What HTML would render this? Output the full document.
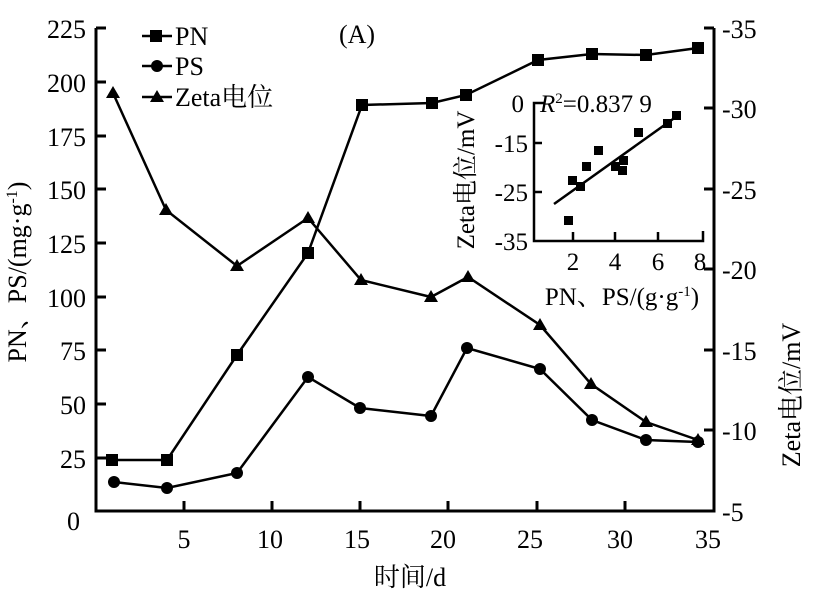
<!DOCTYPE html>
<html><head><meta charset="utf-8"><style>
body{margin:0;background:#fff}
svg{display:block;font-family:"Liberation Serif","Noto Serif CJK SC",serif}
</style></head><body>
<svg width="824" height="598" viewBox="0 0 824 598" xmlns="http://www.w3.org/2000/svg">
<g stroke="#000" stroke-width="3" fill="none">
<path d="M96 28 V511 H714 V28"/>
<path d="M96 28h10M96 82h10M96 136h10M96 189h10M96 243h10M96 297h10M96 350h10M96 404h10M96 458h10"/>
<path d="M184 511v-10M272 511v-10M360 511v-10M448 511v-10M537 511v-10M625 511v-10"/>
<path d="M714 28h-10M714 108h-10M714 189h-10M714 269h-10M714 350h-10M714 430h-10"/>
</g>
<g font-size="26" fill="#000">
<g text-anchor="end">
<text x="86" y="38">225</text><text x="86" y="92">200</text><text x="86" y="146">175</text><text x="86" y="199">150</text><text x="86" y="253">125</text><text x="86" y="307">100</text><text x="86" y="360">75</text><text x="86" y="414">50</text><text x="86" y="468">25</text><text x="80" y="530">0</text>
</g>
<g text-anchor="middle">
<text x="184" y="548">5</text><text x="270" y="548">10</text><text x="357" y="548">15</text><text x="443" y="548">20</text><text x="530" y="548">25</text><text x="620" y="548">30</text><text x="708" y="548">35</text>
<text x="410" y="586">时间/d</text>
<text x="357" y="43">(A)</text>
</g>
<g>
<text x="722" y="38">-35</text><text x="722" y="118">-30</text><text x="722" y="199">-25</text><text x="722" y="279">-20</text><text x="722" y="360">-15</text><text x="722" y="440">-10</text><text x="722" y="521">-5</text>
</g>
<text transform="translate(26,272) rotate(-90)" text-anchor="middle">PN、PS/(mg·g<tspan font-size="16" dy="-9">-1</tspan><tspan dy="9">)</tspan></text>
<text transform="translate(800,395) rotate(-90)" text-anchor="middle">Zeta电位/mV</text>
<text x="175" y="45">PN</text><text x="175" y="75">PS</text><text x="175" y="106">Zeta电位</text>
</g>
<g stroke="#000" stroke-width="2.5"><path d="M142 36h30M142 66h30M142 97h30"/></g>
<rect x="150" y="30" width="12" height="12"/>
<circle cx="157" cy="66" r="6"/>
<path d="M157 90l7 12h-14z"/>
<g stroke="#000" stroke-width="2.5" fill="none">
<polyline points="112,460 167,460 237,355 308,253 362,105 432,103 466,95 538,60 592,54 646,55 698,48"/>
<polyline points="114,482 167,488 237,473 308,377 360,408 431,416 467,348 540,369 592,420 646,440 698,442"/>
<polyline points="113,93 166,210 237,266 308,218 361,280 431,297 468,277 540,325 591,384 646,422 698,440"/>
</g>
<g>
<rect x="106" y="454" width="12" height="12"/><rect x="161" y="454" width="12" height="12"/><rect x="231" y="349" width="12" height="12"/><rect x="302" y="247" width="12" height="12"/><rect x="356" y="99" width="12" height="12"/><rect x="426" y="97" width="12" height="12"/><rect x="460" y="89" width="12" height="12"/><rect x="532" y="54" width="12" height="12"/><rect x="586" y="48" width="12" height="12"/><rect x="640" y="49" width="12" height="12"/><rect x="692" y="42" width="12" height="12"/>
<circle cx="114" cy="482" r="6"/><circle cx="167" cy="488" r="6"/><circle cx="237" cy="473" r="6"/><circle cx="308" cy="377" r="6"/><circle cx="360" cy="408" r="6"/><circle cx="431" cy="416" r="6"/><circle cx="467" cy="348" r="6"/><circle cx="540" cy="369" r="6"/><circle cx="592" cy="420" r="6"/><circle cx="646" cy="440" r="6"/><circle cx="698" cy="442" r="6"/>
<path d="M113 86l7 12h-14zM166 203l7 12h-14zM237 259l7 12h-14zM308 211l7 12h-14zM361 273l7 12h-14zM431 290l7 12h-14zM468 270l7 12h-14zM540 318l7 12h-14zM591 377l7 12h-14zM646 415l7 12h-14zM698 433l7 12h-14z"/>
</g>
<!-- inset -->
<g stroke="#000" stroke-width="2.5" fill="none">
<path d="M544 103 H534 V241 H703 V231"/>
<path d="M534 143h8M534 192h8M573 241v-9M615 241v-9M658 241v-9"/>
<path d="M554 204 L673 119"/>
</g>
<g>
<rect x="568" y="176" width="9" height="9"/><rect x="576" y="182" width="9" height="9"/><rect x="582" y="162" width="9" height="9"/><rect x="594" y="146" width="9" height="9"/><rect x="611" y="162" width="9" height="9"/><rect x="619" y="156" width="9" height="9"/><rect x="618" y="166" width="9" height="9"/><rect x="634" y="128" width="9" height="9"/><rect x="663" y="119" width="9" height="9"/><rect x="672" y="111" width="9" height="9"/><rect x="564" y="216" width="9" height="9"/>
</g>
<g font-size="25" fill="#000">
<g text-anchor="end"><text x="524" y="112">0</text><text x="528" y="152">-15</text><text x="528" y="201">-25</text><text x="528" y="250">-35</text></g>
<g text-anchor="middle"><text x="573" y="270">2</text><text x="615" y="270">4</text><text x="658" y="270">6</text><text x="700" y="270">8</text>
<text x="622" y="305">PN、PS/(g·g<tspan font-size="15" dy="-9">-1</tspan><tspan dy="9">)</tspan></text></g>
<text x="540" y="112"><tspan font-style="italic">R</tspan><tspan font-size="15" dy="-9">2</tspan><tspan dy="9">=0.837 9</tspan></text>
<text transform="translate(474,180) rotate(-90)" text-anchor="middle">Zeta电位/mV</text>
</g>
</svg>
</body></html>
